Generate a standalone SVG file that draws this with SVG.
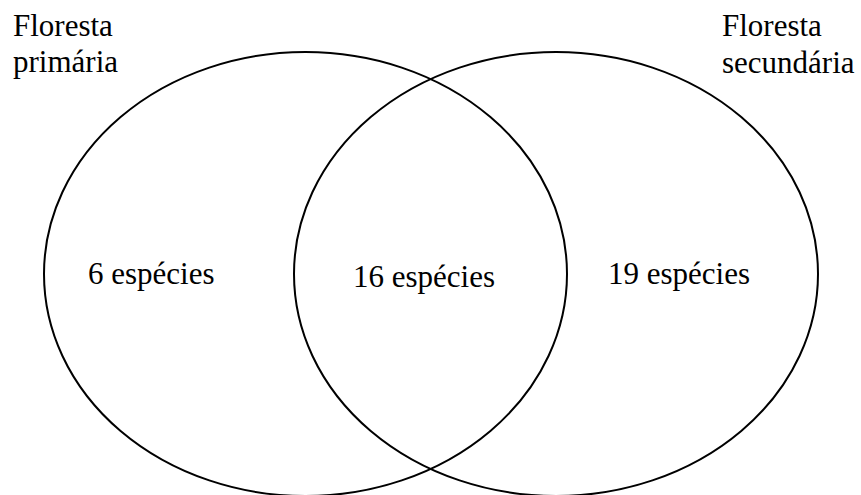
<svg xmlns="http://www.w3.org/2000/svg" width="861" height="495" viewBox="0 0 861 495">
<style>
.set{fill:none;stroke:#000;stroke-width:2}
.t{font-family:"Liberation Serif","Times New Roman",serif;font-size:31px;fill:#000}
</style>
<rect width="861" height="495" fill="#fff"/>
<g id="primaria">
<ellipse class="set" cx="305.5" cy="274" rx="261.5" ry="222"/>
<text class="t" x="13" y="36">Floresta</text>
<text class="t" x="13" y="72">primária</text>
<text class="t" x="88" y="284">6 espécies</text>
</g>
<g id="secundaria">
<ellipse class="set" cx="556" cy="274" rx="262" ry="222"/>
<text class="t" x="722" y="36">Floresta</text>
<text class="t" x="722" y="72.5">secundária</text>
<text class="t" x="608" y="284">19 espécies</text>
</g>
<g id="intersecao">
<text class="t" x="353" y="287">16 espécies</text>
</g>
<g id="connectors"></g>
</svg>
